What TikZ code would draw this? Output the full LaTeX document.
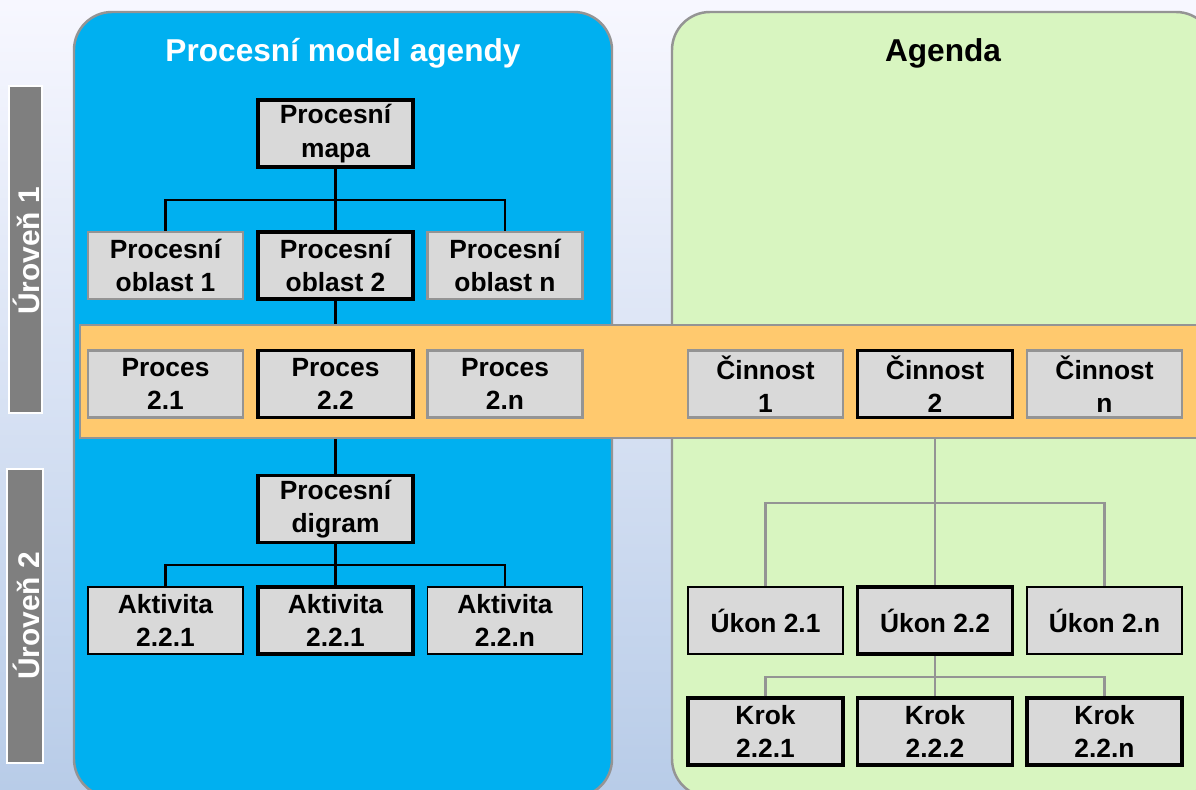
\documentclass[tikz,border=0pt]{standalone}
\usepackage{fontspec}
\setmainfont{Liberation Sans}
\usepackage{tikz}
\pgfdeclarelayer{background}
\pgfdeclarelayer{links}
\pgfdeclarelayer{band}
\pgfsetlayers{background,links,band,main}

\definecolor{skyblue}{RGB}{0,176,240}
\definecolor{leafgreen}{RGB}{216,245,192}
\definecolor{bandorange}{RGB}{255,201,110}
\definecolor{cellgray}{RGB}{217,217,217}
\definecolor{rimgray}{RGB}{148,148,148}
\definecolor{levelgray}{RGB}{127,127,127}

\tikzset{
  cell/.style = {fill=cellgray, minimum width=3.1cm, minimum height=1.34cm,
    inner sep=0pt, align=center, font=\fontsize{15}{19}\selectfont\bfseries},
  soft/.style = {cell, draw=rimgray, line width=1.2pt},
  plain/.style = {cell, draw=black, line width=1.1pt},
  strong/.style = {cell, draw=black, line width=2pt},
  link/.style = {line width=1.4pt, black},
  greylink/.style = {line width=1.2pt, rimgray},
  panel/.style = {draw=rimgray, line width=1.4pt, rounded corners=0.76cm},
  level/.style = {fill=levelgray, draw=white, line width=1pt}
}

\begin{document}
\begin{tikzpicture}[x=0.02cm, y=-0.02cm]
  \clip (0,0) rectangle (1196,790);
  \useasboundingbox (0,0) rectangle (1196,790);

  \begin{pgfonlayer}{background}
    \shade [top color=white!97!blue, bottom color={rgb,255:red,184;green,204;blue,232}]
      (0,0) rectangle (1196,790);
    \path [panel, fill=skyblue] (74,12) rectangle (612,797);
    \path [panel, fill=leafgreen] (672,12) rectangle (1214,797);
    \path [level] (9,86) rectangle (42,413);
    \path [level] (7,469) rectangle (43,763);
  \end{pgfonlayer}

  % level labels and titles
  \node [rotate=90, white, font=\fontsize{17}{20}\selectfont\bfseries] (lev1) at (26,251) {Úroveň 1};
  \node [rotate=90, white, font=\fontsize{17}{20}\selectfont\bfseries] (lev2) at (26,616) {Úroveň 2};
  \node [white, font=\fontsize{18}{22}\selectfont\bfseries] (title1) at (343,53) {Procesní model agendy};
  \node [font=\fontsize{18}{22}\selectfont\bfseries] (title2) at (943,53) {Agenda};

  % process model
  \node [strong] (mapa) at (335.5,133.5) {Procesní\\mapa};
  \node [soft] (obl1) at (165.5,265.5) {Procesní\\oblast 1};
  \node [strong] (obl2) at (335.5,265.5) {Procesní\\oblast 2};
  \node [soft] (obln) at (505,265.5) {Procesní\\oblast n};
  \node [soft] (proc1) at (165.5,384) {Proces\\2.1};
  \node [strong] (proc2) at (335.5,384) {Proces\\2.2};
  \node [soft] (procn) at (505,384) {Proces\\2.n};
  \node [strong] (digram) at (335.5,509) {Procesní\\digram};
  \node [plain] (akt1) at (165.5,620.5) {Aktivita\\2.2.1};
  \node [strong] (akt2) at (335.5,620.5) {Aktivita\\2.2.1};
  \node [plain] (aktn) at (505,620.5) {Aktivita\\2.2.n};

  % agenda
  \node [soft] (cin1) at (765.5,384) {Činnost\\1};
  \node [strong] (cin2) at (935,384) {Činnost\\2};
  \node [soft] (cinn) at (1104.5,384) {Činnost\\n};
  \node [plain] (ukon1) at (765.5,620.5) {Úkon 2.1};
  \node [strong] (ukon2) at (935,620.5) {Úkon 2.2};
  \node [plain] (ukonn) at (1104.5,620.5) {Úkon 2.n};
  \node [strong] (krok1) at (765.5,731.5) {Krok\\2.2.1};
  \node [strong] (krok2) at (935,731.5) {Krok\\2.2.2};
  \node [strong] (krokn) at (1104.5,731.5) {Krok\\2.2.n};

  \coordinate (bus1) at (335.5,200);
  \coordinate (bus2) at (335.5,565);
  \coordinate (bus3) at (935,503);
  \coordinate (bus4) at (935,677);

  \begin{pgfonlayer}{links}
    \draw [link] (obl2) -- (digram);
    \draw [greylink] (cin2) -- (ukon2);
  \end{pgfonlayer}
  \begin{pgfonlayer}{band}
    \path [fill=bandorange, draw=rimgray, line width=1.2pt] (80,325) rectangle (1210,438);
  \end{pgfonlayer}

  \draw [link] (mapa) -- (obl2);
  \draw [link] (obl1.north) |- (bus1) -| (obln.north);
  \draw [link] (digram) -- (akt2);
  \draw [link] (akt1.north) |- (bus2) -| (aktn.north);
  \draw [greylink] (ukon1.north) |- (bus3) -| (ukonn.north);
  \draw [greylink] (ukon2) -- (krok2);
  \draw [greylink] (krok1.north) |- (bus4) -| (krokn.north);
\end{tikzpicture}
\end{document}
